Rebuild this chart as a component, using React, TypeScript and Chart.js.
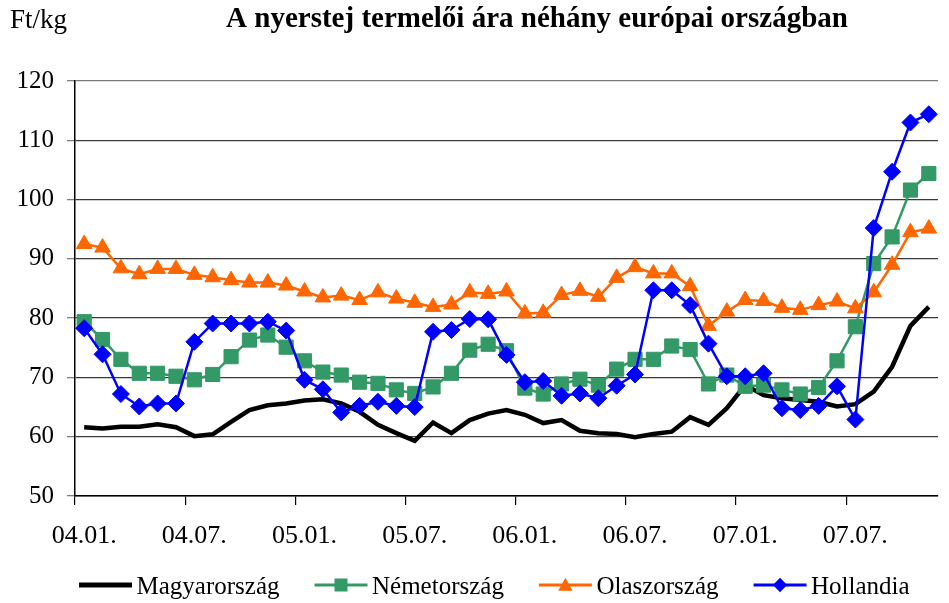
import React, { useEffect, useRef } from 'react';
import { Chart, registerables } from 'chart.js';

Chart.register(...registerables);

const titleText = 'A nyerstej termelői ára néhány európai országban';
const unitText = 'Ft/kg';

const categories = [
  '04.01.', '04.02.', '04.03.', '04.04.', '04.05.', '04.06.', '04.07.', '04.08.', '04.09.', '04.10.', '04.11.', '04.12.',
  '05.01.', '05.02.', '05.03.', '05.04.', '05.05.', '05.06.', '05.07.', '05.08.', '05.09.', '05.10.', '05.11.', '05.12.',
  '06.01.', '06.02.', '06.03.', '06.04.', '06.05.', '06.06.', '06.07.', '06.08.', '06.09.', '06.10.', '06.11.', '06.12.',
  '07.01.', '07.02.', '07.03.', '07.04.', '07.05.', '07.06.', '07.07.', '07.08.', '07.09.', '07.10.', '07.11.',
];

const seriesNames = ['Magyarország', 'Németország', 'Olaszország', 'Hollandia'];

const magyarorszag = [
  61.6, 61.4, 61.7, 61.7, 62.1, 61.6, 60.1, 60.4, 62.5, 64.5,
  65.3, 65.6, 66.1, 66.3, 65.6, 64.2, 62.0, 60.6, 59.3, 62.4,
  60.6, 62.8, 63.9, 64.5, 63.7, 62.3, 62.8, 61.0, 60.6, 60.45,
  59.9, 60.45, 60.85, 63.3, 62.0, 64.8, 68.7, 67.0, 66.5, 66.2,
  65.9, 65.1, 65.5, 67.6, 71.8, 78.7, 81.9,
];

const nemetorszag = [
  79.4, 76.4, 73.05, 70.7, 70.7, 70.2, 69.6, 70.5, 73.5, 76.3,
  77.15, 75.1, 72.8, 70.9, 70.4, 69.2, 69.0, 67.9, 67.3, 68.4,
  70.7, 74.6, 75.6, 74.5, 68.2, 67.2, 68.9, 69.7, 68.7, 71.4,
  73.05, 73.05, 75.3, 74.7, 68.9, 70.4, 68.5, 68.7, 67.9, 67.2,
  68.3, 72.8, 78.55, 89.2, 93.7, 101.6, 104.4,
];

const olaszorszag = [
  92.5, 91.9, 88.4, 87.4, 88.3, 88.3, 87.3, 86.9, 86.4, 86.0,
  86.0, 85.5, 84.5, 83.5, 83.8, 83.05, 84.35, 83.3, 82.6, 81.9,
  82.3, 84.35, 84.1, 84.5, 80.8, 80.9, 83.9, 84.6, 83.6, 86.8,
  88.6, 87.55, 87.55, 85.4, 78.7, 81.1, 83.05, 82.9, 81.75, 81.4,
  82.2, 82.8, 81.65, 84.35, 89.0, 94.5, 95.1,
];

const hollandia = [
  78.3, 73.9, 67.2, 65.1, 65.6, 65.6, 76.0, 79.1, 79.1, 79.1,
  79.4, 77.9, 69.6, 68.0, 64.1, 65.2, 65.9, 65.2, 65.0, 77.7,
  78.0, 79.85, 79.8, 73.8, 69.2, 69.4, 66.9, 67.3, 66.5, 68.6,
  70.5, 84.7, 84.7, 82.2, 75.7, 70.2, 70.2, 70.7, 64.8, 64.5,
  65.2, 68.5, 62.9, 95.2, 104.7, 113.0, 114.4,
];

const yMin = 50;
const yMax = 120;
const yStep = 10;
const labelEvery = 6;

const COLORS = ['#000000', '#339966', '#FF6600', '#0000FF'];
const MARKERS = ['none', 'square', 'triangle', 'diamond'];
const SERIF = '"Liberation Serif", "Times New Roman", serif';

function drawMarker(ctx: CanvasRenderingContext2D, kind: string, x: number, y: number, s: number, color: string) {
  ctx.fillStyle = color;
  ctx.beginPath();
  if (kind === 'square') {
    ctx.rect(x - s / 2, y - s / 2, s, s);
  } else if (kind === 'triangle') {
    ctx.moveTo(x, y - s * 0.55);
    ctx.lineTo(x + s * 0.55, y + s * 0.45);
    ctx.lineTo(x - s * 0.55, y + s * 0.45);
    ctx.closePath();
  } else if (kind === 'diamond') {
    ctx.moveTo(x, y - s * 0.55);
    ctx.lineTo(x + s * 0.55, y);
    ctx.lineTo(x, y + s * 0.55);
    ctx.lineTo(x - s * 0.55, y);
    ctx.closePath();
  } else {
    return;
  }
  ctx.fill();
}

const textPlugin = {
  id: 'customTexts',
  afterDraw(chart: any) {
    const ctx: CanvasRenderingContext2D = chart.ctx;
    ctx.save();
    ctx.fillStyle = '#000';
    ctx.textBaseline = 'middle';
    ctx.textAlign = 'center';
    ctx.font = `bold 29px ${SERIF}`;
    ctx.fillText(titleText, 537, 20);
    ctx.textAlign = 'left';
    ctx.font = `27px ${SERIF}`;
    ctx.fillText(unitText, 10, 21);

    // legend
    ctx.font = `25px ${SERIF}`;
    let x = 79;
    const y = 587;
    const lineLen = 53;
    seriesNames.forEach((name, i) => {
      ctx.strokeStyle = COLORS[i];
      ctx.lineWidth = i === 0 ? 5 : 3;
      ctx.lineCap = 'butt';
      ctx.beginPath();
      ctx.moveTo(x, y - 2);
      ctx.lineTo(x + lineLen, y - 2);
      ctx.stroke();
      drawMarker(ctx, MARKERS[i], x + lineLen / 2, y - 2, 13, COLORS[i]);
      ctx.fillStyle = '#000';
      ctx.fillText(name, x + lineLen + 4.5, y);
      x += lineLen + 4.5 + ctx.measureText(name).width + 35;
    });
    ctx.restore();
  },
};

export default function App() {
  const canvasRef = useRef<HTMLCanvasElement | null>(null);

  useEffect(() => {
    const canvas = canvasRef.current;
    if (!canvas) return;
    const chart = new Chart(canvas, {
      type: 'line',
      data: {
        labels: categories,
        datasets: [
          {
            label: seriesNames[0],
            data: magyarorszag,
            borderColor: COLORS[0],
            backgroundColor: COLORS[0],
            borderWidth: 4.5,
            pointRadius: 0,
            tension: 0,
            order: 4,
          },
          {
            label: seriesNames[1],
            data: nemetorszag,
            borderColor: COLORS[1],
            backgroundColor: COLORS[1],
            borderWidth: 2.5,
            pointStyle: 'rect',
            pointRadius: 10,
            pointBorderWidth: 1,
            pointBorderColor: COLORS[1],
            pointBackgroundColor: COLORS[1],
            tension: 0,
            order: 3,
          },
          {
            label: seriesNames[2],
            data: olaszorszag,
            borderColor: COLORS[2],
            backgroundColor: COLORS[2],
            borderWidth: 2.5,
            pointStyle: 'triangle',
            pointRadius: 9,
            pointBorderWidth: 1,
            pointBorderColor: COLORS[2],
            pointBackgroundColor: COLORS[2],
            tension: 0,
            order: 2,
          },
          {
            label: seriesNames[3],
            data: hollandia,
            borderColor: COLORS[3],
            backgroundColor: COLORS[3],
            borderWidth: 2.5,
            pointStyle: 'rectRot',
            pointRadius: 8.5,
            pointBorderWidth: 1,
            pointBorderColor: COLORS[3],
            pointBackgroundColor: COLORS[3],
            tension: 0,
            order: 1,
          },
        ],
      },
      options: {
        responsive: false,
        animation: false,
        devicePixelRatio: 1,
        layout: { padding: { top: 81, right: 0, bottom: 0, left: 0 } },
        plugins: {
          legend: { display: false },
          title: { display: false },
          tooltip: { enabled: false },
        },
        scales: {
          x: {
            type: 'category',
            offset: true,
            afterFit(scale: any) {
              scale.height = 107;
            },
            grid: {
              display: true,
              drawOnChartArea: false,
              drawTicks: true,
              tickLength: 9,
              offset: true,
              lineWidth: 1.2,
              color: (ctx: any) =>
                typeof ctx.index === 'number' && ctx.index % labelEvery === 0 ? '#000' : 'rgba(0,0,0,0)',
            },
            border: { display: true, color: '#000', width: 1.5 },
            ticks: {
              autoSkip: false,
              maxRotation: 0,
              minRotation: 0,
              padding: 16,
              color: '#000',
              font: { family: SERIF, size: 26 },
              callback: (_v: any, index: number) => (index % labelEvery === 0 ? categories[index] : ''),
            },
          },
          y: {
            min: yMin,
            max: yMax,
            afterFit(scale: any) {
              scale.width = 75;
            },
            grid: {
              drawTicks: true,
              tickLength: 8,
              lineWidth: 1.3,
              color: (ctx: any) => (ctx.tick && ctx.tick.value === yMax ? '#7a7a7a' : '#3a3a3a'),
              tickColor: '#808080',
            },
            border: { display: true, color: '#000', width: 1.5 },
            ticks: {
              stepSize: yStep,
              padding: 13,
              color: '#000',
              font: { family: SERIF, size: 25 },
            },
          },
        },
      },
      plugins: [textPlugin],
    } as any);
    return () => chart.destroy();
  }, []);

  return (
    <div style={{ position: 'absolute', left: 0, top: 0, width: 949, height: 603, background: '#fff' }}>
      <canvas ref={canvasRef} width={949} height={603} style={{ display: 'block', width: 949, height: 603 }} />
    </div>
  );
}
